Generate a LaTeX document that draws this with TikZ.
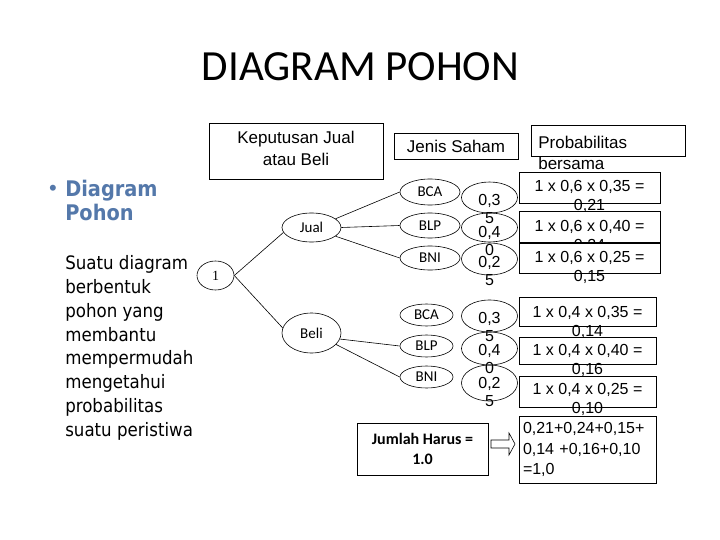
\documentclass[tikz,border=0pt]{standalone}
\usepackage{fontspec}
\setmainfont{Liberation Sans}
\newfontfamily\calfont{Carlito}
\newfontfamily\slidefont{DejaVu Sans Condensed}
\newfontfamily\numfont{Liberation Serif}
\usepackage{tikz}
\usetikzlibrary{shapes.geometric}
\usepackage{xcolor}
\definecolor{slideblue}{RGB}{84,120,170}

\begin{document}
\begin{tikzpicture}[
  x=1pt, y=-1pt, line width=0.6pt,
  box/.style={draw, rectangle, inner sep=0pt},
  oval/.style={draw, ellipse, inner sep=0pt},
  choice/.style={oval, font=\calfont\fontsize{15}{15}\selectfont},
  prob/.style={oval, minimum width=56pt},
  probtxt/.style={anchor=north, inner sep=0pt, align=center, font=\fontsize{16}{17.5}\selectfont},
  joint/.style={box, fill=white},
  jointtxt/.style={anchor=north, inner sep=0pt, align=center, font=\fontsize{16}{19}\selectfont},
]
\path[use as bounding box, fill=white] (0,0) rectangle (720,540);

% Title
\node[font=\calfont\fontsize{43}{48}\selectfont] (title) at (360.5,66.5) {DIAGRAM POHON};

% Left column text
\node[text=slideblue, font=\fontsize{22}{22}\selectfont] (bullet) at (53,190) {•};
\node[anchor=north west, inner sep=0pt, align=left, text=slideblue, font=\slidefont\bfseries\fontsize{21.5}{24.5}\selectfont] (heading) at (65,179.5) {Diagram\\Pohon};
\node[anchor=north west, inner sep=0pt, align=left, font=\slidefont\fontsize{18.5}{23.9}\selectfont] (desc) at (65,255) {Suatu diagram\\berbentuk\\pohon yang\\membantu\\mempermudah\\mengetahui\\probabilitas\\suatu peristiwa};

% Column headers
\node[box, minimum width=174pt, minimum height=56pt, text depth=6pt, align=center, font=\fontsize{17}{22}\selectfont] (decision) at (296,151) {Keputusan Jual\\atau Beli};
\node[box, minimum width=124pt, minimum height=26pt, font=\fontsize{17}{20}\selectfont] (stock) at (456,146) {Jenis Saham};
\node[box, minimum width=154pt, minimum height=31pt] (jointhead) at (608,140.5) {};
\node[anchor=north west, inner sep=0pt, align=left, font=\fontsize{17}{21}\selectfont] (jointlabel) at (538,135.5) {Probabilitas\\bersama};

% Tree: root and decision
\node[oval, minimum width=37pt, minimum height=29pt, font=\numfont\fontsize{14}{14}\selectfont] (root) at (215.5,275.5) {1};
\node[choice, minimum width=59pt, minimum height=29pt] (jual) at (311.5,227.5) {Jual};
\node[choice, minimum width=59pt, minimum height=40pt] (beli) at (311.5,333) {Beli};

% Stocks after Jual
\node[choice, minimum width=60pt, minimum height=26pt] (jbca) at (430,192) {BCA};
\node[choice, minimum width=60pt, minimum height=25pt] (jblp) at (430,225.5) {BLP};
\node[choice, minimum width=60pt, minimum height=24pt] (jbni) at (430,258) {BNI};

% Stocks after Beli
\node[choice, minimum width=53pt, minimum height=22pt] (bbca) at (426.5,315) {BCA};
\node[choice, minimum width=53pt, minimum height=22pt] (bblp) at (426.5,346) {BLP};
\node[choice, minimum width=53pt, minimum height=22pt] (bbni) at (426.5,377) {BNI};

% Branches
\draw (root.east) -- (jual.190);
\draw (root.east) -- (beli.170);
\draw (jual.20) -- (jbca.west);
\draw (jual.east) -- (jblp.west);
\draw (jual.-20) -- (jbni.west);
\draw (beli.-12) -- (bblp.west);
\draw (beli.-25) -- (bbni.west);

% Stock probabilities
\node[prob, minimum height=31pt] (jp1) at (489.5,197.5) {};
\node[prob, minimum height=29pt] (jp2) at (489.5,227.5) {};
\node[prob, minimum height=32pt] (jp3) at (489.5,259) {};
\node[probtxt] (jp1txt) at (489.5,194.3) {0,3\\5};
\node[probtxt] (jp2txt) at (489.5,226.3) {0,4\\0};
\node[probtxt] (jp3txt) at (489.5,256.3) {0,2\\5};
\node[prob, minimum height=32pt] (bp1) at (489.5,316) {};
\node[prob, minimum height=33pt] (bp2) at (489.5,348.5) {};
\node[prob, minimum height=36pt] (bp3) at (489.5,383) {};
\node[probtxt] (bp1txt) at (489.5,312.3) {0,3\\5};
\node[probtxt] (bp2txt) at (489.5,344.3) {0,4\\0};
\node[probtxt] (bp3txt) at (489.5,377.3) {0,2\\5};

% Joint probabilities (Jual)
\node[joint, minimum width=141pt, minimum height=31pt] (j1) at (589.5,187.5) {};
\node[jointtxt] (j1txt) at (589.5,180.3) {1 x 0,6 x 0,35 =\\0,21};
\node[joint, minimum width=141pt, minimum height=31pt] (j2) at (589.5,226.5) {};
\node[jointtxt] (j2txt) at (589.5,220.3) {1 x 0,6 x 0,40 =\\0,24};
\node[joint, minimum width=141pt, minimum height=30pt] (j3) at (589.5,258) {};
\node[jointtxt] (j3txt) at (589.5,251.3) {1 x 0,6 x 0,25 =\\0,15};

% Joint probabilities (Beli)
\node[joint, minimum width=137pt, minimum height=29pt] (b1) at (587.5,311.5) {};
\node[jointtxt] (b1txt) at (587.5,306.3) {1 x 0,4 x 0,35 =\\0,14};
\node[joint, minimum width=137pt, minimum height=27pt] (b2) at (587.5,350.5) {};
\node[jointtxt] (b2txt) at (587.5,344.3) {1 x 0,4 x 0,40 =\\0,16};
\node[joint, minimum width=137pt, minimum height=31pt] (b3) at (587.5,391.5) {};
\node[jointtxt] (b3txt) at (587.5,383.3) {1 x 0,4 x 0,25 =\\0,10};

% Total
\node[box, minimum width=131pt, minimum height=52pt, align=center, font=\calfont\bfseries\fontsize{16}{20}\selectfont] (total) at (422.5,449) {Jumlah Harus =\\1.0};
\node[joint, minimum width=137pt, minimum height=67pt, text width=129pt, inner sep=4pt, align=left, font=\fontsize{16}{20.5}\selectfont] (sum) at (587.5,449.5) {0,21+0,24+0,15+\\0,14 +0,16+0,10\\=1,0};
\draw (491,440) -- (509,440) -- (509,433) -- (515,444) -- (509,455) -- (509,448) -- (491,448) -- cycle;

\end{tikzpicture}
\end{document}
